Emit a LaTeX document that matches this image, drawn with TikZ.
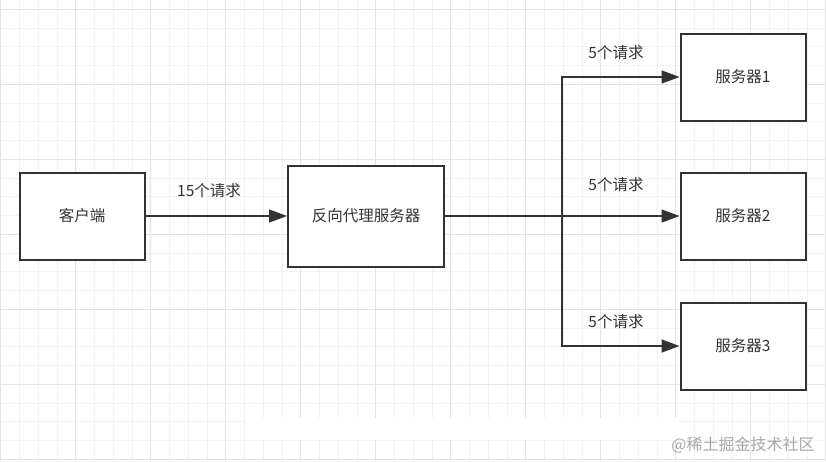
\documentclass[tikz,border=0pt]{standalone}
\usepackage{fontspec}
\setmainfont{Noto Sans CJK SC}
\usepackage{xcolor}
\usetikzlibrary{arrows.meta, positioning}

\definecolor{inkgray}{HTML}{333333}
\definecolor{gridminor}{HTML}{F2F2F2}
\definecolor{gridmajor}{HTML}{E3E3E3}
\definecolor{markgray}{HTML}{A8A8A8}

\tikzset{
  box/.style={draw=inkgray, line width=2pt, fill=white, text=inkgray, font=\fontsize{15.5}{18}\selectfont},
  flow/.style={draw=inkgray, line width=1.5pt, -{Triangle[length=18pt,width=13pt]}},
  lbl/.style={text=inkgray, font=\fontsize{15.5}{18}\selectfont, inner sep=0pt}
}

\begin{document}
\begin{tikzpicture}[x=1pt, y=-1pt]
\useasboundingbox (0,0) rectangle (826,461);
\fill[white] (0,0) rectangle (826,461);

% Grid
\foreach \i in {0,...,44} {
   \draw[gridminor, line width=0.8pt] ({0.7+18.75*\i},0) -- ({0.7+18.75*\i},461);
}
\foreach \i in {0,...,24} {
   \draw[gridminor, line width=0.8pt] (0,{9.3+18.75*\i}) -- (826,{9.3+18.75*\i});
}
\foreach \i in {0,...,11} {
   \draw[gridmajor, line width=0.8pt] ({0.7+75*\i},0) -- ({0.7+75*\i},461);
}
\foreach \i in {0,...,6} {
   \draw[gridmajor, line width=0.8pt] (0,{9.3+75*\i}) -- (826,{9.3+75*\i});
}
\fill[white] (245,418) rectangle (678,440);

% Boxes
\node[box, minimum width=125pt, minimum height=87pt] (client) at (82,216) {客户端};
\node[box, minimum width=156pt, minimum height=101pt] (proxy) at (366,216) {反向代理服务器};
\node[box, minimum width=125pt, minimum height=87pt] (srv1) at (743,77) {服务器1};
\node[box, minimum width=125pt, minimum height=87pt] (srv2) at (743,216) {服务器2};
\node[box, minimum width=125pt, minimum height=87pt] (srv3) at (743,346) {服务器3};

\coordinate (split) at (562,216);

% Arrows
\draw[flow] (client) -- (proxy);
\draw[draw=inkgray, line width=2.7pt] (proxy.east) -- (split);
\draw[flow] (split) |- (srv1.west);
\draw[flow] (split) -- (srv2.west);
\draw[flow] (split) |- (srv3.west);

% Labels
\node[lbl] (req0) at (209,191) {15个请求};
\node[lbl] (req1) at (616,53) {5个请求};
\node[lbl] (req2) at (616,185) {5个请求};
\node[lbl] (req3) at (616,322) {5个请求};

\node[text=markgray, font=\fontsize{16}{18}\selectfont, inner sep=0pt] (mark) at (743,445) {@稀土掘金技术社区};
\end{tikzpicture}
\end{document}
